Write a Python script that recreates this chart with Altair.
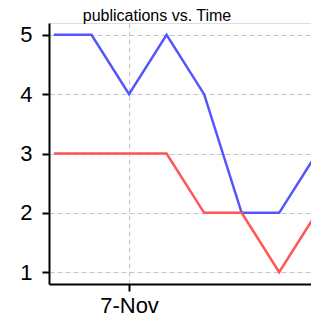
import altair as alt
import pandas as pd

dates = ["2020-11-05T00:00:00", "2020-11-06T00:00:00", "2020-11-07T00:00:00",
         "2020-11-08T00:00:00", "2020-11-09T00:00:00", "2020-11-10T00:00:00",
         "2020-11-11T00:00:00", "2020-11-12T00:00:00"]
blue_values = [5, 5, 4, 5, 4, 2, 2, 3]
red_values = [3, 3, 3, 3, 2, 2, 1, 2]
series_names = ["blue", "red"]
series_colors = ["#5555FF", "#FF5555"]
y_ticks = [1, 2, 3, 4, 5]
title_text = "publications vs. Time"

rows = []
for d, b, r in zip(dates, blue_values, red_values):
    rows.append({"date": d, "value": b, "series": "blue"})
    rows.append({"date": d, "value": r, "series": "red"})
df = pd.DataFrame(rows)

FONT = "Liberation Sans"

# 38 px per day; first point 5 px right of the y axis
x_scale = alt.Scale(domain=[alt.DateTime(year=2020, month=11, date=4, hours=20, minutes=50),
                            alt.DateTime(year=2020, month=11, date=11, hours=20, minutes=20)])
y_scale = alt.Scale(domain=[0.8, 5.2], nice=False, zero=False)

common_axis = dict(
    title=None, grid=True, gridDash=[5, 3], gridColor="#c4c4c4", gridWidth=1,
    domainColor="black", domainWidth=2, tickColor="black", tickWidth=2, tickSize=7,
    labelFont=FONT, labelFontSize=22, labelColor="black", labelFlush=False,
)

lines = alt.Chart(df).mark_line(clip=True, strokeWidth=2.5).encode(
    x=alt.X("date:T", scale=x_scale,
            axis=alt.Axis(values=[alt.DateTime(year=2020, month=11, date=7)],
                          format="%-d-%b", labelPadding=4, **common_axis)),
    y=alt.Y("value:Q", scale=y_scale,
            axis=alt.Axis(values=y_ticks, labelPadding=10, **common_axis)),
    color=alt.Color("series:N", scale=alt.Scale(domain=series_names, range=series_colors),
                    legend=None),
    order=alt.Order("date:T"),
)

title = alt.Chart(pd.DataFrame({"t": [title_text]})).mark_text(
    align="center", baseline="alphabetic", fontSize=16, font=FONT, color="black"
).encode(x=alt.value(108), y=alt.value(-2), text="t:N")

chart = alt.layer(lines, title).properties(
    width=262, height=261,
    autosize=alt.AutoSizeParams(type="none"),
    padding={"left": 41, "top": 15, "right": 0, "bottom": 34},
).configure_view(stroke=None).configure(background="white")

chart.save("out.html", embed_options={"renderer": "svg", "actions": False})
